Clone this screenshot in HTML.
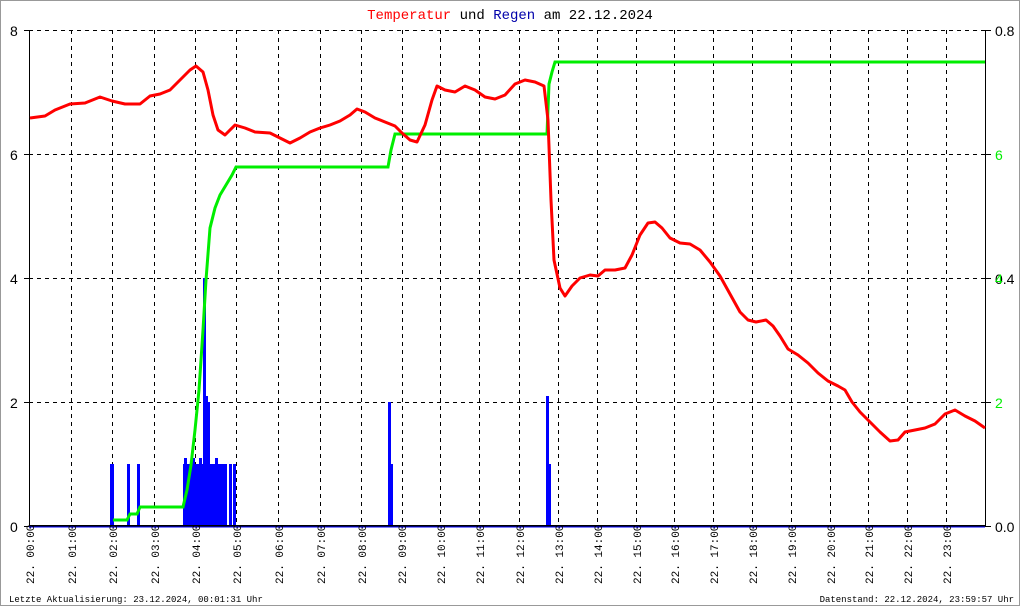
<!DOCTYPE html>
<html><head><meta charset="utf-8"><style>
body{margin:0;background:#fff}
svg{display:block}
</style></head><body>
<svg width="1020" height="606" xmlns="http://www.w3.org/2000/svg" font-family="Liberation Mono, monospace">
<rect x="0.5" y="0.5" width="1019" height="605" fill="#fff" stroke="#999"/>
<text x="510" y="19" font-size="14" text-anchor="middle"><tspan fill="#f00">Temperatur</tspan><tspan fill="#000"> und </tspan><tspan fill="#00a">Regen</tspan><tspan fill="#000"> am 22.12.2024</tspan></text>
<g stroke="#000" stroke-dasharray="4,4" stroke-width="1">
<line x1="29" y1="30.5" x2="985" y2="30.5"/>
<line x1="29" y1="154.5" x2="985" y2="154.5"/>
<line x1="29" y1="278.5" x2="985" y2="278.5"/>
<line x1="29" y1="402.5" x2="985" y2="402.5"/>
<g id="v">
<line x1="71.5" y1="30" x2="71.5" y2="526"/><line x1="112.5" y1="30" x2="112.5" y2="526"/><line x1="154.5" y1="30" x2="154.5" y2="526"/><line x1="195.5" y1="30" x2="195.5" y2="526"/><line x1="236.5" y1="30" x2="236.5" y2="526"/><line x1="278.5" y1="30" x2="278.5" y2="526"/><line x1="320.5" y1="30" x2="320.5" y2="526"/><line x1="361.5" y1="30" x2="361.5" y2="526"/><line x1="402.5" y1="30" x2="402.5" y2="526"/><line x1="440.5" y1="30" x2="440.5" y2="526"/><line x1="479.5" y1="30" x2="479.5" y2="526"/><line x1="519.5" y1="30" x2="519.5" y2="526"/><line x1="558.5" y1="30" x2="558.5" y2="526"/><line x1="597.5" y1="30" x2="597.5" y2="526"/><line x1="636.5" y1="30" x2="636.5" y2="526"/><line x1="674.5" y1="30" x2="674.5" y2="526"/><line x1="713.5" y1="30" x2="713.5" y2="526"/><line x1="752.5" y1="30" x2="752.5" y2="526"/><line x1="791.5" y1="30" x2="791.5" y2="526"/><line x1="830.5" y1="30" x2="830.5" y2="526"/><line x1="868.5" y1="30" x2="868.5" y2="526"/><line x1="907.5" y1="30" x2="907.5" y2="526"/><line x1="946.5" y1="30" x2="946.5" y2="526"/>
</g></g>
<line x1="29.5" y1="30" x2="29.5" y2="527" stroke="#000"/>
<line x1="985.5" y1="30" x2="985.5" y2="527" stroke="#000"/>
<g stroke="#000"><line x1="24" y1="30.5" x2="29" y2="30.5"/><line x1="24" y1="154.5" x2="29" y2="154.5"/><line x1="24" y1="278.5" x2="29" y2="278.5"/><line x1="24" y1="402.5" x2="29" y2="402.5"/><line x1="24" y1="526.5" x2="29" y2="526.5"/>
<line x1="985" y1="30.5" x2="991" y2="30.5"/><line x1="985" y1="154.5" x2="991" y2="154.5"/><line x1="985" y1="278.5" x2="991" y2="278.5"/><line x1="985" y1="402.5" x2="991" y2="402.5"/><line x1="985" y1="526.5" x2="991" y2="526.5"/></g>
<g font-family="Liberation Sans, sans-serif" font-size="14">
<text x="10" y="36">8</text><text x="10" y="160">6</text><text x="10" y="284">4</text><text x="10" y="408">2</text><text x="10" y="532">0</text>
<text x="995" y="36">0.8</text><text x="995" y="160" fill="#0e0">6</text><text x="995" y="284">0.4</text><text x="995" y="284" fill="#0e0">4</text><text x="995" y="408" fill="#0e0">2</text><text x="995" y="532">0.0</text>
</g>
<!-- rain bars -->
<g fill="#0000ff">
<rect x="110" y="464" width="4" height="62"/><rect x="127" y="464" width="3" height="62"/><rect x="137" y="464" width="3" height="62"/>
<rect x="183" y="464" width="44" height="62"/><rect x="184" y="458" width="3" height="6"/><rect x="192" y="458" width="3" height="6"/>
<rect x="203" y="278" width="3" height="186"/><rect x="206" y="396" width="2" height="68"/><rect x="208" y="402" width="2" height="62"/><rect x="199" y="458" width="3" height="6"/><rect x="215" y="458" width="3" height="6"/>
<rect x="229" y="464" width="3" height="62"/><rect x="233" y="464" width="3" height="62"/>
<rect x="388" y="402" width="3" height="124"/><rect x="391" y="464" width="2" height="62"/>
<rect x="546" y="396" width="3" height="130"/><rect x="549" y="464" width="2" height="62"/>
</g>
<!-- rain sum -->
<polyline fill="none" stroke="#00ee00" stroke-width="3" points="113,520 127,520 130,514 137,514 140,507 183,507 187,490 191,465 195,430 199,390 203,330 206,280 210,228 215,208 220,195 226,185 232,175 236,167 388,167 391,150 395,134 547,134 549,84 552,72 555,62 985,62"/>
<!-- temperature -->
<polyline fill="none" stroke="#ff0000" stroke-width="3" stroke-linejoin="round" points="30,118 45,116 55,110 70,104 85,103 100,97 112,101 125,104 140,104 150,96 160,94 170,90 180,80 190,70 196,66 203,72 208,90 213,115 218,130 225,135 235,125 245,128 255,132 270,133 280,138 290,143 300,138 310,132 320,128 330,125 340,121 350,115 357,109 365,112 375,118 385,122 395,126 402,133 410,140 417,142 425,125 432,100 437,86 445,90 455,92 465,86 475,90 485,97 495,99 505,95 515,84 525,80 535,82 544,86 548,120 551,200 554,260 560,288 565,296 572,286 580,278 590,275 598,276 605,270 615,270 625,268 632,255 640,235 648,223 655,222 662,228 670,238 680,243 690,244 700,250 710,262 720,276 730,294 740,312 748,320 756,322 766,320 773,326 780,336 788,349 798,355 808,363 818,373 828,381 838,386 845,390 852,402 860,412 870,422 880,432 890,441 898,440 905,432 915,430 925,428 935,424 945,414 955,410 965,416 975,421 985,428"/>
<line x1="29" y1="526" x2="985" y2="526" stroke="#000" stroke-width="2"/>
<line x1="29" y1="527" x2="985" y2="527" stroke="#0000ff" stroke-width="1"/>
<g font-size="11" fill="#000">
<text transform="translate(34,584) rotate(-90)">22. 00:00</text>
<text transform="translate(76,584) rotate(-90)">22. 01:00</text>
<text transform="translate(117,584) rotate(-90)">22. 02:00</text>
<text transform="translate(159,584) rotate(-90)">22. 03:00</text>
<text transform="translate(200,584) rotate(-90)">22. 04:00</text>
<text transform="translate(241,584) rotate(-90)">22. 05:00</text>
<text transform="translate(283,584) rotate(-90)">22. 06:00</text>
<text transform="translate(325,584) rotate(-90)">22. 07:00</text>
<text transform="translate(366,584) rotate(-90)">22. 08:00</text>
<text transform="translate(406,584) rotate(-90)">22. 09:00</text>
<text transform="translate(445,584) rotate(-90)">22. 10:00</text>
<text transform="translate(484,584) rotate(-90)">22. 11:00</text>
<text transform="translate(524,584) rotate(-90)">22. 12:00</text>
<text transform="translate(563,584) rotate(-90)">22. 13:00</text>
<text transform="translate(602,584) rotate(-90)">22. 14:00</text>
<text transform="translate(641,584) rotate(-90)">22. 15:00</text>
<text transform="translate(679,584) rotate(-90)">22. 16:00</text>
<text transform="translate(718,584) rotate(-90)">22. 17:00</text>
<text transform="translate(757,584) rotate(-90)">22. 18:00</text>
<text transform="translate(796,584) rotate(-90)">22. 19:00</text>
<text transform="translate(835,584) rotate(-90)">22. 20:00</text>
<text transform="translate(873,584) rotate(-90)">22. 21:00</text>
<text transform="translate(912,584) rotate(-90)">22. 22:00</text>
<text transform="translate(951,584) rotate(-90)">22. 23:00</text>
</g>
<g font-size="9">
<text x="9" y="602">Letzte Aktualisierung: 23.12.2024, 00:01:31 Uhr</text>
<text x="1014" y="602" text-anchor="end">Datenstand: 22.12.2024, 23:59:57 Uhr</text>
</g>
</svg>
</body></html>
